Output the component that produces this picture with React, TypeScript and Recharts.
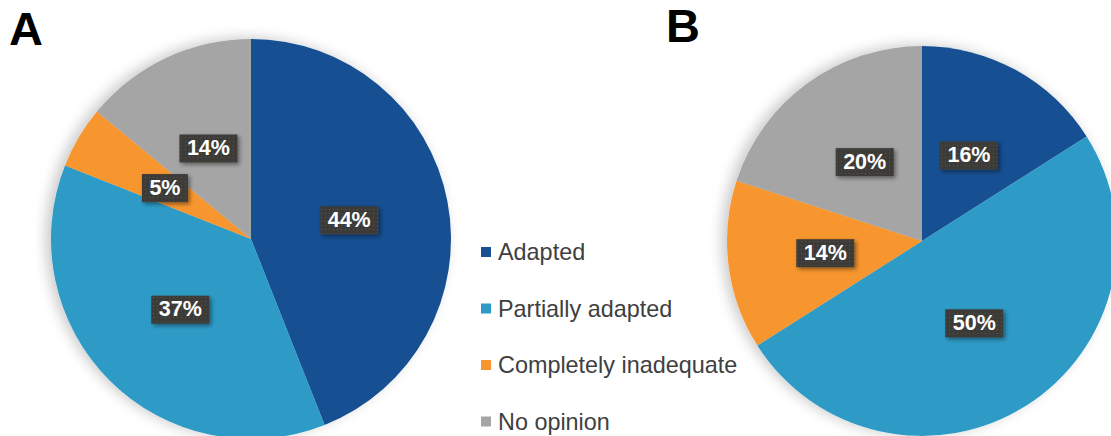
import React from "react";
import { PieChart, Pie, Cell } from "recharts";

const categories = ["Adapted", "Partially adapted", "Completely inadequate", "No opinion"];
const colors = ["#175092", "#2E9BC6", "#F7962F", "#A5A5A5"];
const valuesA = [44, 37, 5, 14];
const valuesB = [16, 50, 14, 20];
const panelLabels = ["A", "B"];

const dataA = categories.map((name, i) => ({ name, value: valuesA[i] }));
const dataB = categories.map((name, i) => ({ name, value: valuesB[i] }));

const RADIAN = Math.PI / 180;

const renderLabel = (props: any) => {
  const { cx, cy, midAngle, outerRadius, value } = props;
  const r = outerRadius * 0.5;
  const x = cx + r * Math.cos(-midAngle * RADIAN);
  const y = cy + r * Math.sin(-midAngle * RADIAN);
  const text = `${value}%`;
  const w = text.length === 2 ? 46 : 58;
  const h = 28;
  return (
    <g key={`l-${props.index}`}>
      <rect x={x - w / 2} y={y - h / 2} width={w} height={h} fill="#3c3a39" filter="url(#boxShadow)" />
      <rect x={x - w / 2} y={y - h / 2} width={w} height={h} fill="url(#dots)" />
      <text
        x={x}
        y={y + 1}
        textAnchor="middle"
        dominantBaseline="middle"
        fill="#ffffff"
        fontFamily="'Liberation Sans', Arial, sans-serif"
        fontWeight="bold"
        fontSize={21.5}
      >
        {text}
      </text>
    </g>
  );
};

export default function App() {
  return (
    <div style={{ position: "absolute", left: 0, top: 0, width: 1111, height: 436, background: "#fff", overflow: "hidden" }}>
      <svg width={0} height={0} style={{ position: "absolute" }}>
        <defs>
          <filter id="pieShadow" x="-20%" y="-20%" width="140%" height="140%">
            <feGaussianBlur in="SourceAlpha" stdDeviation="7" />
            <feOffset dx="-5" dy="-1" result="b" />
            <feComponentTransfer>
              <feFuncA type="linear" slope="0.22" />
            </feComponentTransfer>
            <feMerge>
              <feMergeNode />
              <feMergeNode in="SourceGraphic" />
            </feMerge>
          </filter>
          <filter id="boxShadow" x="-30%" y="-30%" width="160%" height="160%">
            <feGaussianBlur in="SourceAlpha" stdDeviation="2" />
            <feOffset dx="2" dy="2" />
            <feComponentTransfer>
              <feFuncA type="linear" slope="0.45" />
            </feComponentTransfer>
            <feMerge>
              <feMergeNode />
              <feMergeNode in="SourceGraphic" />
            </feMerge>
          </filter>
          <pattern id="dots" width="4" height="4" patternUnits="userSpaceOnUse">
            <rect x="1" y="1" width="1" height="1" fill="#555" />
          </pattern>
        </defs>
      </svg>
      <style>{`.pieShadowWrap .recharts-pie { filter: url(#pieShadow); }`}</style>
      <div className="pieShadowWrap" style={{ position: "absolute", left: 0, top: 0 }}>
        <PieChart width={1111} height={436} margin={{ top: 0, right: 0, bottom: 0, left: 0 }}>
          <Pie
            data={dataA}
            dataKey="value"
            nameKey="name"
            cx={251}
            cy={239}
            outerRadius={200}
            startAngle={90}
            endAngle={-270}
            stroke="none"
            labelLine={false}
            label={renderLabel}
            isAnimationActive={false}
          >
            {dataA.map((d, i) => (
              <Cell key={d.name} fill={colors[i]} />
            ))}
          </Pie>
          <Pie
            data={dataB}
            dataKey="value"
            nameKey="name"
            cx={922}
            cy={241}
            outerRadius={195}
            startAngle={90}
            endAngle={-270}
            stroke="none"
            labelLine={false}
            label={renderLabel}
            isAnimationActive={false}
          >
            {dataB.map((d, i) => (
              <Cell key={d.name} fill={colors[i]} />
            ))}
          </Pie>
        </PieChart>
      </div>
      <div
        style={{
          position: "absolute",
          left: 9,
          top: 2,
          fontFamily: "'Liberation Sans', Arial, sans-serif",
          fontWeight: "bold",
          fontSize: 47,
          color: "#000",
          lineHeight: "54px",
        }}
      >
        {panelLabels[0]}
      </div>
      <div
        style={{
          position: "absolute",
          left: 666,
          top: -1,
          fontFamily: "'Liberation Sans', Arial, sans-serif",
          fontWeight: "bold",
          fontSize: 47,
          color: "#000",
          lineHeight: "54px",
        }}
      >
        {panelLabels[1]}
      </div>
      <svg width={1111} height={436} style={{ position: "absolute", left: 0, top: 0, pointerEvents: "none" }}>
        {categories.map((c, i) => {
          const baseline = 260 + i * 56.5;
          return (
            <g key={c}>
              <rect x={481} y={baseline - 13} width={10} height={10} fill={colors[i]} />
              <text
                x={498}
                y={baseline}
                fontFamily="'Liberation Sans', Arial, sans-serif"
                fontSize={23.4}
                fill="#404040"
              >
                {c}
              </text>
            </g>
          );
        })}
      </svg>
    </div>
  );
}
